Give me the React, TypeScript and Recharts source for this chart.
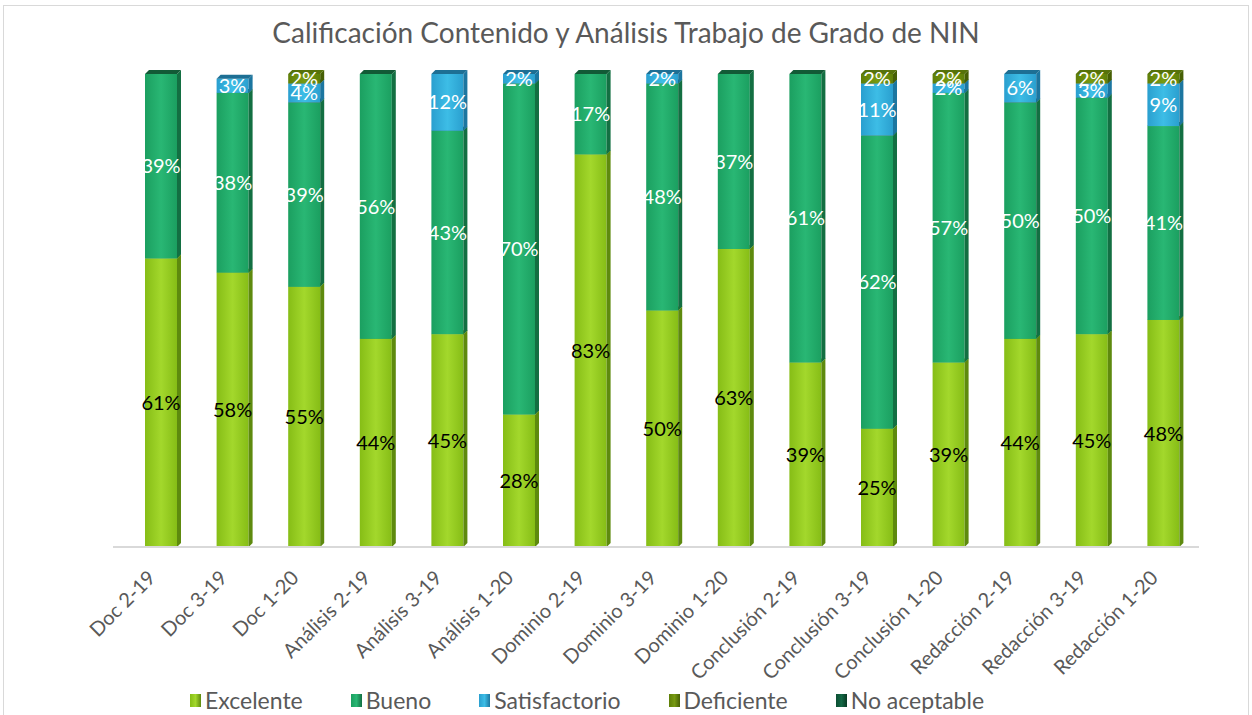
import React from "react";
import { BarChart, Bar, XAxis, YAxis, LabelList } from "recharts";

const categories = [
  "Doc 2-19", "Doc 3-19", "Doc 1-20",
  "Análisis 2-19", "Análisis 3-19", "Análisis 1-20",
  "Dominio 2-19", "Dominio 3-19", "Dominio 1-20",
  "Conclusión 2-19", "Conclusión 3-19", "Conclusión 1-20",
  "Redacción 2-19", "Redacción 3-19", "Redacción 1-20",
];
const excelente = [61, 58, 55, 44, 45, 28, 83, 50, 63, 39, 25, 39, 44, 45, 48];
const bueno = [39, 38, 39, 56, 43, 70, 17, 48, 37, 61, 62, 57, 50, 50, 41];
const satisfactorio = [0, 3, 4, 0, 12, 2, 0, 2, 0, 0, 11, 2, 6, 3, 9];
const deficiente = [0, 0, 2, 0, 0, 0, 0, 0, 0, 0, 2, 2, 0, 2, 2];
const noAceptable = [0, 0, 0, 0, 0, 0, 0, 0, 0, 0, 0, 0, 0, 0, 0];

const series = [
  { key: "excelente", name: "Excelente", values: excelente, c1: "#86bd16", c2: "#a3d82c", side: "#5e8a0e", top: "#7aab14", label: "#000" },
  { key: "bueno", name: "Bueno", values: bueno, c1: "#1b9f60", c2: "#29b774", side: "#136f42", top: "#125a36", label: "#fff" },
  { key: "satisfactorio", name: "Satisfactorio", values: satisfactorio, c1: "#2a9fcf", c2: "#3dbde6", side: "#1c76a0", top: "#1d6f94", label: "#fff" },
  { key: "deficiente", name: "Deficiente", values: deficiente, c1: "#5f7f08", c2: "#779a12", side: "#465f05", top: "#56720a", label: "#fff" },
  { key: "noAceptable", name: "No aceptable", values: noAceptable, c1: "#0c4f33", c2: "#146845", side: "#093a25", top: "#0a4429", label: "#fff" },
];

const data = categories.map((name, i) => {
  const row: Record<string, string | number> = { name };
  series.forEach((s) => (row[s.key] = s.values[i]));
  return row;
});

const DEPTH = 4;
const FONT = "Lato, 'Open Sans', sans-serif";

function makeShape(s: typeof series[number]) {
  return (props: any) => {
    const { x, y, width, height } = props;
    if (!height || height <= 0) return <g />;
    const d = DEPTH;
    return (
      <g>
        <rect x={x} y={y} width={width} height={height} fill={`url(#grad-${s.key})`} />
        <polygon
          points={`${x + width},${y + height} ${x + width + d},${y + height - d} ${x + width + d},${y - d} ${x + width},${y}`}
          fill={s.side}
        />
        <polygon
          points={`${x},${y} ${x + d},${y - d} ${x + width + d},${y - d} ${x + width},${y}`}
          fill={s.top}
        />
      </g>
    );
  };
}

function Tick(props: any) {
  const { x, y, payload } = props;
  const tx = x - 4;
  const ty = y + 24;
  return (
    <text
      x={tx}
      y={ty}
      transform={`rotate(-45 ${tx} ${ty})`}
      textAnchor="end"
      fill="#595959"
      fontSize={20}
      fontFamily={FONT}
    >
      {payload.value}
    </text>
  );
}

export default function App() {
  return (
    <div
      style={{
        position: "absolute",
        left: 3,
        top: 5,
        width: 1244,
        height: 709,
        border: "1px solid #d9d9d9",
        background: "#fff",
        fontFamily: FONT,
      }}
    >
      <div
        style={{
          position: "absolute",
          top: 9,
          width: "100%",
          textAlign: "center",
          fontSize: 28,
          color: "#595959",
        }}
      >
        Calificación Contenido y Análisis Trabajo de Grado de NIN
      </div>
      <BarChart
        width={1244}
        height={709}
        data={data}
        margin={{ top: 68, right: 49, bottom: 58, left: 109 }}
        barSize={32}
      >
        <defs>
          {series.map((s) => (
            <linearGradient key={s.key} id={`grad-${s.key}`} x1="0" y1="0" x2="1" y2="0">
              <stop offset="0%" stopColor={s.c1} />
              <stop offset="50%" stopColor={s.c2} />
              <stop offset="100%" stopColor={s.c1} />
            </linearGradient>
          ))}
        </defs>
        <XAxis
          dataKey="name"
          interval={0}
          height={110}
          tickLine={false}
          axisLine={{ stroke: "#d9d9d9", strokeWidth: 2 }}
          tick={<Tick />}
          padding={{ left: 12, right: 0 }}
        />
        <YAxis hide domain={[0, 100]} />
        {series.map((s) => (
          <Bar
            key={s.key}
            dataKey={s.key}
            name={s.name}
            stackId="a"
            fill={s.c2}
            shape={makeShape(s)}
            isAnimationActive={false}
          >
            <LabelList
              dataKey={s.key}
              position="center"
              fill={s.label}
              fontSize={20}
              fontFamily={FONT}
              formatter={(v: any) => (v ? `${v}%` : "")}
            />
          </Bar>
        ))}
      </BarChart>
      <div
        style={{
          position: "absolute",
          top: 680,
          left: 186,
          display: "flex",
          gap: 48,
          fontSize: 23,
          color: "#595959",
        }}
      >
        {series.map((s) => (
          <div key={s.key} style={{ display: "flex", alignItems: "center", gap: 4 }}>
            <span
              style={{
                display: "inline-block",
                width: 11,
                height: 13,
                background: `linear-gradient(to right, ${s.c1}, ${s.c2}, ${s.side})`,
              }}
            />
            <span>{s.name}</span>
          </div>
        ))}
      </div>
    </div>
  );
}
